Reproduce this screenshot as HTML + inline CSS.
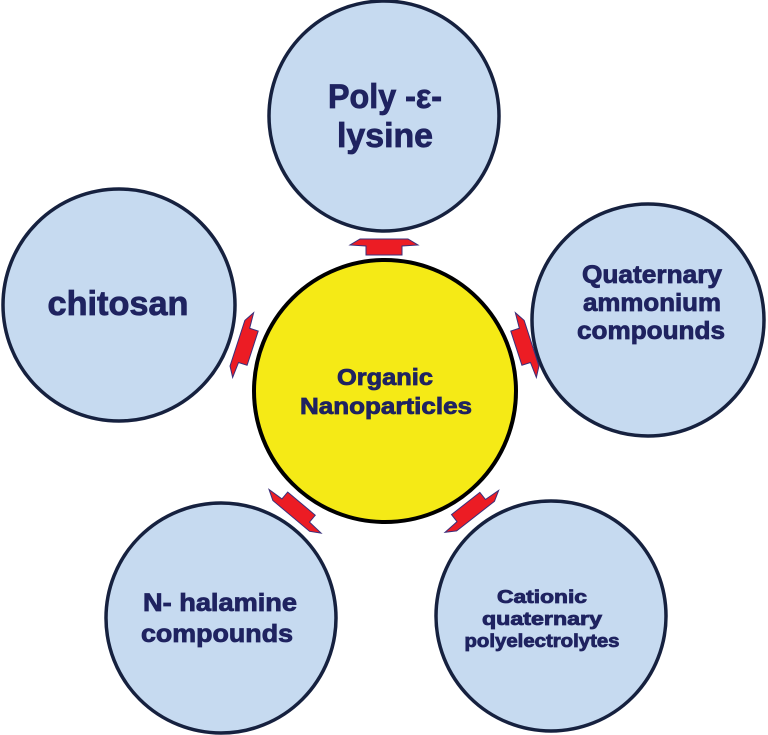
<!DOCTYPE html>
<html><head><meta charset="utf-8"><style>
html,body{margin:0;padding:0;background:#fff;width:768px;height:735px;overflow:hidden}
svg{display:block}
text{font-family:"Liberation Sans",sans-serif;font-weight:bold;fill:#1f2360;stroke:#1f2360;stroke-width:0.8}
</style></head><body>
<svg width="768" height="735" viewBox="0 0 768 735">
<g>
<circle cx="384" cy="116" r="115" fill="#c6daf0" stroke="#16213f" stroke-width="3.5"/>
<circle cx="119" cy="305" r="116" fill="#c6daf0" stroke="#16213f" stroke-width="3.5"/>
<circle cx="648" cy="320" r="116" fill="#c6daf0" stroke="#16213f" stroke-width="3.5"/>
<circle cx="221" cy="618" r="115" fill="#c6daf0" stroke="#16213f" stroke-width="3.5"/>
<circle cx="551" cy="616" r="115" fill="#c6daf0" stroke="#16213f" stroke-width="3.5"/>
</g>
<circle cx="385" cy="391" r="131" fill="#f5ea16" stroke="#000" stroke-width="4"/>
<g id="arrows"></g>
<text x="385" y="108" font-size="34" text-anchor="middle" textLength="114" lengthAdjust="spacingAndGlyphs">Poly -ε-</text>
<text x="385" y="147" font-size="34" text-anchor="middle" textLength="96" lengthAdjust="spacingAndGlyphs">lysine</text>
<text x="118" y="315" font-size="34" text-anchor="middle" textLength="141" lengthAdjust="spacingAndGlyphs">chitosan</text>
<text x="652" y="283" font-size="25" text-anchor="middle" textLength="140" lengthAdjust="spacingAndGlyphs">Quaternary</text>
<text x="652" y="311" font-size="25" text-anchor="middle" textLength="138" lengthAdjust="spacingAndGlyphs">ammonium</text>
<text x="651" y="339" font-size="25" text-anchor="middle" textLength="148" lengthAdjust="spacingAndGlyphs">compounds</text>
<text x="385" y="385" font-size="23" text-anchor="middle" textLength="96" lengthAdjust="spacingAndGlyphs">Organic</text>
<text x="386" y="414" font-size="23" text-anchor="middle" textLength="172" lengthAdjust="spacingAndGlyphs">Nanoparticles</text>
<text x="220" y="611" font-size="25" text-anchor="middle" textLength="154" lengthAdjust="spacingAndGlyphs">N- halamine</text>
<text x="217" y="642" font-size="25" text-anchor="middle" textLength="152" lengthAdjust="spacingAndGlyphs">compounds</text>
<text x="542" y="603" font-size="18" text-anchor="middle" textLength="90" lengthAdjust="spacingAndGlyphs">Cationic</text>
<text x="542" y="625" font-size="18" text-anchor="middle" textLength="120" lengthAdjust="spacingAndGlyphs">quaternary</text>
<text x="542" y="647" font-size="18" text-anchor="middle" textLength="155" lengthAdjust="spacingAndGlyphs">polyelectrolytes</text>
</svg>
<script>
const arrowNames=['arrow-to-poly-lysine','arrow-to-chitosan','arrow-to-quaternary','arrow-to-n-halamine','arrow-to-cationic'];
const arrowX=[384,246,523,297,470];
const arrowY=[248,346,346,509,509];
const arrowAngle=[-90,-162,-18,130,52];
const g=document.getElementById('arrows');
const ns='http://www.w3.org/2000/svg';
for(let i=0;i<arrowNames.length;i++){
  const p=document.createElementNS(ns,'polygon');
  p.setAttribute('points','-18,7 18,7 18,-2 34,-3 24,-9 -24,-9 -34,-3 -18,-2');
  p.setAttribute('fill','#ec1c24');
  p.setAttribute('stroke','#3a2f7a');
  p.setAttribute('stroke-width','1');
  p.setAttribute('transform','translate('+arrowX[i]+','+arrowY[i]+') rotate('+(arrowAngle[i]+90)+')');
  
  
  g.appendChild(p);
}
</script>
</body></html>
